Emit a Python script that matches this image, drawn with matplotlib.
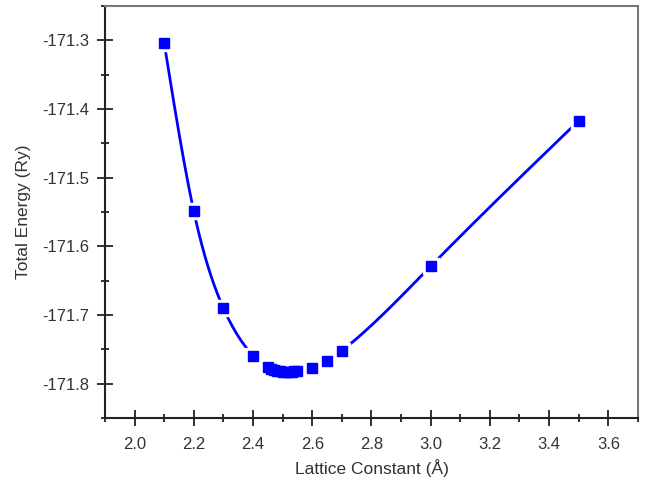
import numpy as np
import matplotlib.pyplot as plt
from matplotlib.ticker import MultipleLocator

plt.rcParams['font.family'] = ['Liberation Sans', 'DejaVu Sans']

lattice = [2.1, 2.2, 2.3, 2.4, 2.45, 2.46, 2.47, 2.48, 2.49, 2.50, 2.51,
           2.52, 2.53, 2.54, 2.55, 2.6, 2.65, 2.7, 3.0, 3.5]
energy = [-171.304, -171.549, -171.690, -171.759, -171.776, -171.778,
          -171.780, -171.781, -171.782, -171.783, -171.783, -171.783,
          -171.783, -171.782, -171.782, -171.777, -171.767, -171.752,
          -171.629, -171.417]


def natural_spline(x, y, xs):
    # plain natural cubic spline, only used to draw the smooth line
    x = np.asarray(x, float)
    y = np.asarray(y, float)
    n = len(x)
    h = np.diff(x)
    A = np.zeros((n, n))
    b = np.zeros(n)
    A[0, 0] = 1
    A[-1, -1] = 1
    for i in range(1, n - 1):
        A[i, i - 1] = h[i - 1]
        A[i, i] = 2 * (h[i - 1] + h[i])
        A[i, i + 1] = h[i]
        b[i] = 3 * ((y[i + 1] - y[i]) / h[i] - (y[i] - y[i - 1]) / h[i - 1])
    c = np.linalg.solve(A, b)
    out = np.empty_like(xs)
    for k, xv in enumerate(xs):
        i = min(max(np.searchsorted(x, xv) - 1, 0), n - 2)
        dx = xv - x[i]
        bi = (y[i + 1] - y[i]) / h[i] - h[i] * (2 * c[i] + c[i + 1]) / 3
        di = (c[i + 1] - c[i]) / (3 * h[i])
        out[k] = y[i] + bi * dx + c[i] * dx ** 2 + di * dx ** 3
    return out


fig = plt.figure(figsize=(6.46, 4.84), dpi=100)
ax = fig.add_axes([0.1625, 0.1364, 0.825, 0.851])

xs = np.linspace(lattice[0], lattice[-1], 800)
ax.plot(xs, natural_spline(lattice, energy, xs), color='#0000ff', lw=2.0, zorder=2)
ax.plot(lattice, energy, 's', ms=12, color='white', zorder=3)
ax.plot(lattice, energy, 's', ms=6.5, color='#0000ff', zorder=4)

ax.set_xlim(1.9, 3.7)
ax.set_ylim(-171.85, -171.25)
ax.xaxis.set_major_locator(MultipleLocator(0.2))
ax.xaxis.set_minor_locator(MultipleLocator(0.1))
ax.yaxis.set_major_locator(MultipleLocator(0.1))
ax.yaxis.set_minor_locator(MultipleLocator(0.05))
ax.xaxis.set_major_formatter(plt.FormatStrFormatter('%.1f'))
ax.yaxis.set_major_formatter(plt.FormatStrFormatter('%.1f'))

ax.tick_params(which='major', direction='inout', length=11, width=1.3,
               labelsize=12, color='#222222', labelcolor='#333333')
ax.tick_params(axis='x', which='major', pad=8)
ax.tick_params(axis='y', which='major', pad=6)
ax.tick_params(which='minor', direction='inout', length=6, width=1.3,
               color='#222222')
ax.tick_params(top=False, right=False, which='both')

for s in ['left', 'bottom']:
    ax.spines[s].set_linewidth(1.5)
    ax.spines[s].set_color('#222222')
for s in ['top', 'right']:
    ax.spines[s].set_linewidth(1.5)
    ax.spines[s].set_color('#777777')

ax.set_xlabel('Lattice Constant (Å)', fontsize=12.5, color='#333333', labelpad=5)
ax.set_ylabel('Total Energy (Ry)', fontsize=12.5, color='#333333', labelpad=8)

fig.savefig('out.png', dpi=100)
